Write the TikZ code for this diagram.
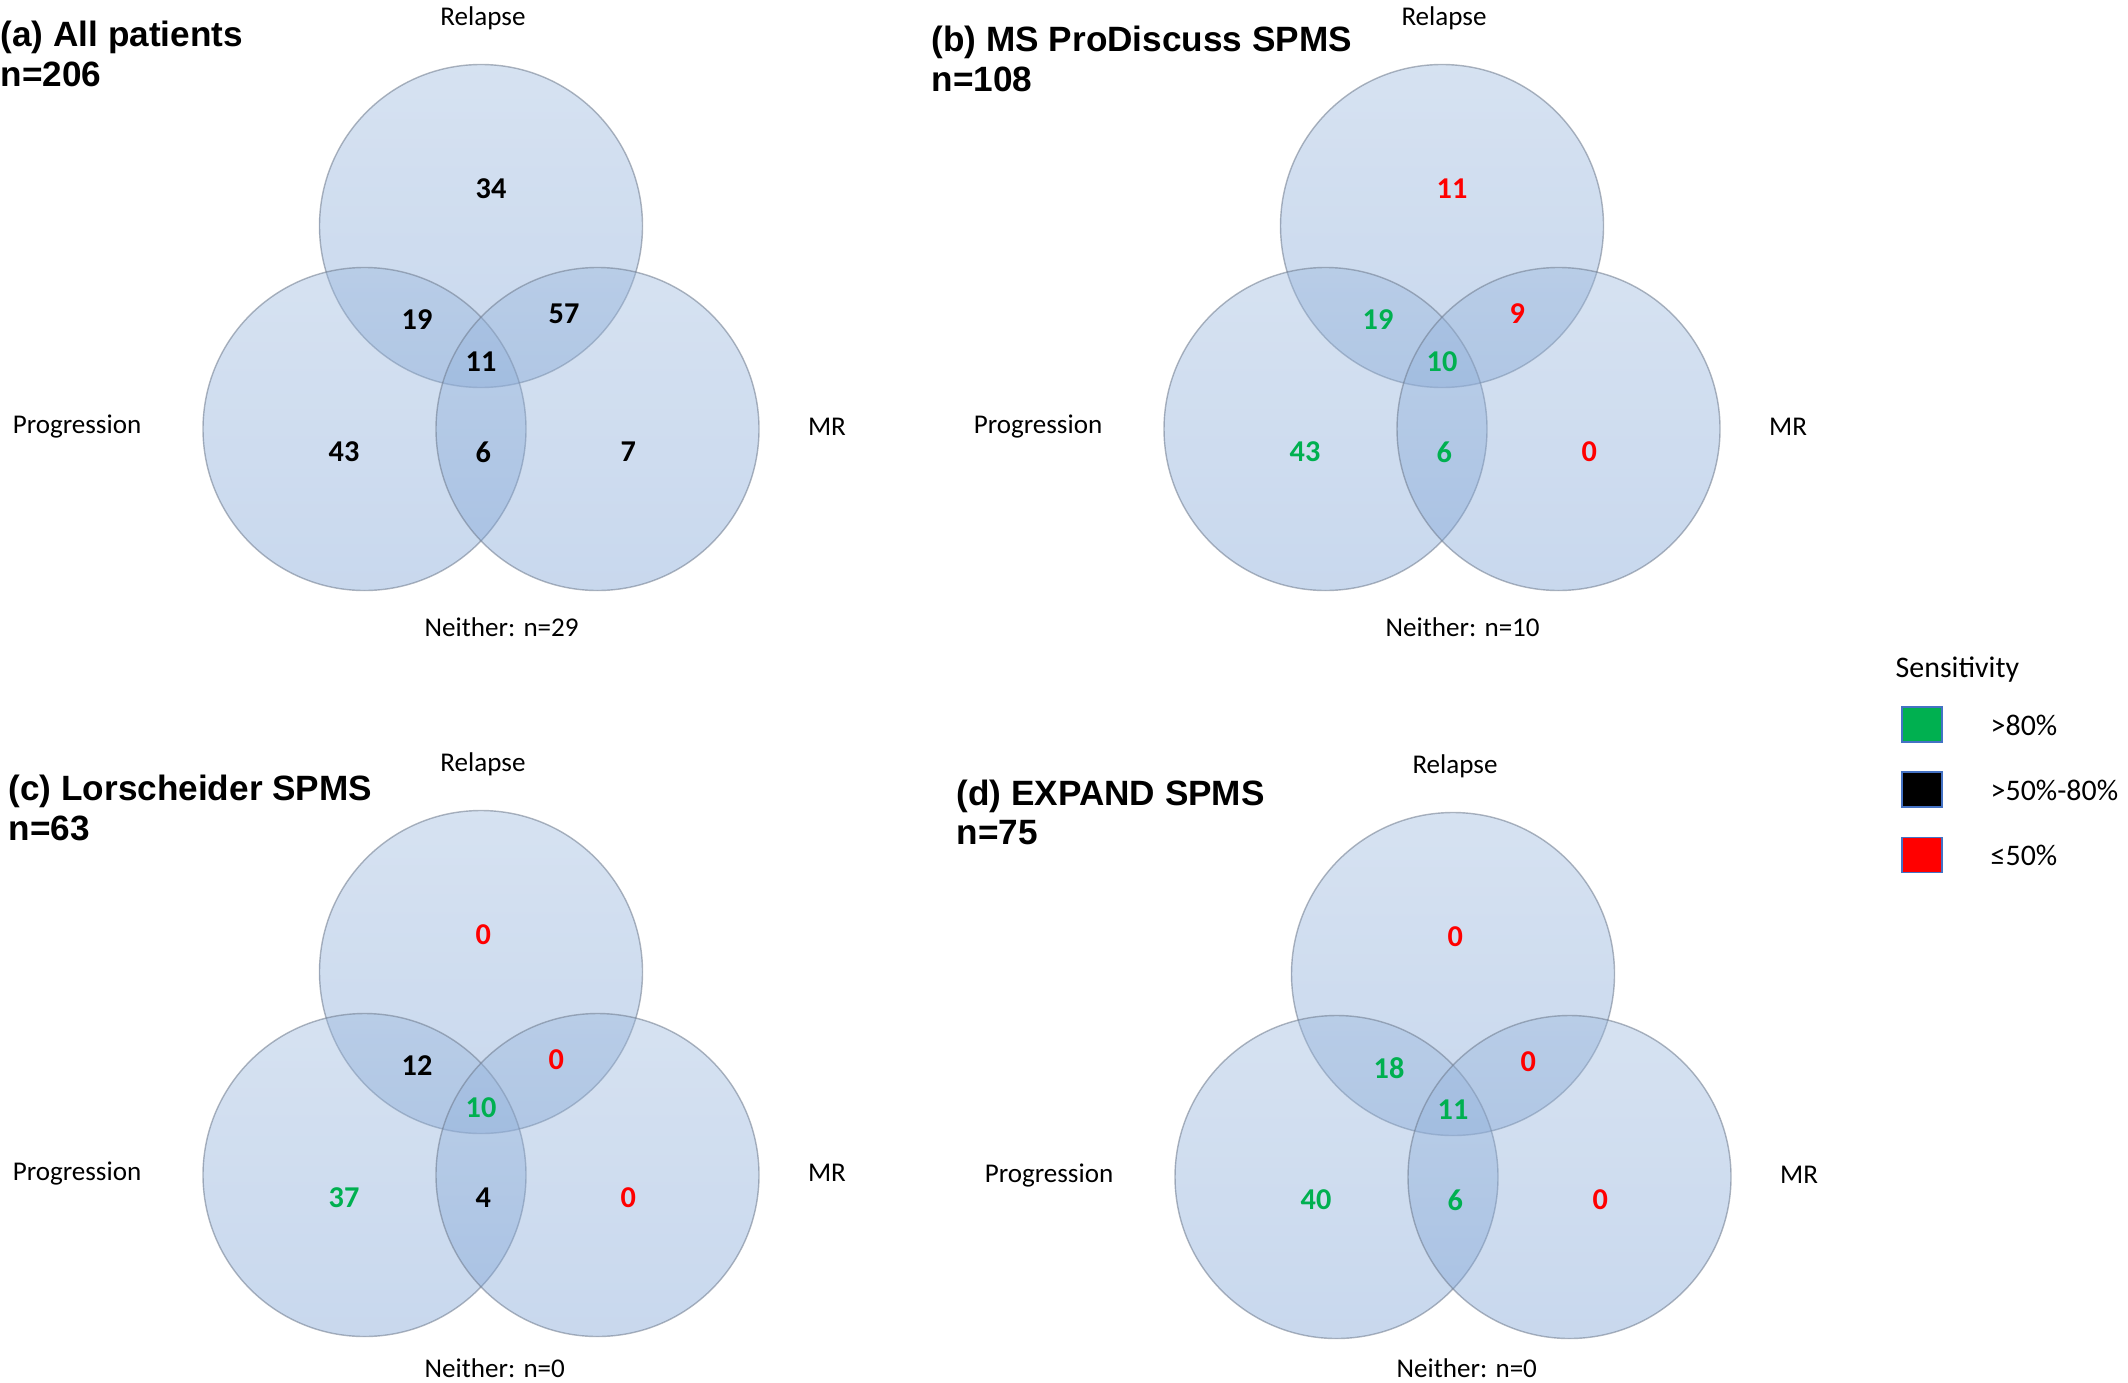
\documentclass[tikz,border=0pt]{standalone}
\usepackage{fontspec}
\setmainfont{Carlito}
\newfontfamily\titlefamily{Liberation Sans}
\usetikzlibrary{positioning}
\definecolor{setTop}{RGB}{155,184,221}
\definecolor{setBottom}{RGB}{122,160,212}
\definecolor{setEdge}{RGB}{110,122,140}
\definecolor{sensHigh}{RGB}{0,176,80}
\definecolor{sensLow}{RGB}{255,0,0}
\definecolor{legendEdge}{RGB}{68,114,196}
\tikzset{
  setcircle/.style={top color=setTop, bottom color=setBottom, fill opacity=0.41,
                    draw=setEdge, draw opacity=0.55, line width=0.4pt},
  setname/.style={font=\fontsize{7.7}{9}\selectfont},
  count/.style={anchor=west, inner sep=0pt, font=\fontsize{8.6}{10}\selectfont\bfseries},
  paneltitle/.style={anchor=base west, inner sep=0pt, font=\titlefamily\fontsize{10}{12}\selectfont\bfseries},
}

\begin{document}
\begin{tikzpicture}[
    x=0.01cm, y=-0.01cm,
    neither/.style={setname, anchor=west, inner sep=0pt},
    legendbox/.style={draw=legendEdge, line width=0.5pt, minimum width=0.4cm, minimum height=0.35cm, inner sep=0pt},
    legendtext/.style={anchor=west, inner sep=0pt, font=\fontsize{8.5}{10}\selectfont}
]
\useasboundingbox (0,0) rectangle (2128,1382);

% (a) All patients
\begin{scope}[shift={(481,226)}]
  \path[setcircle] (0,0) circle[radius=161.5];
  \path[setcircle] (-116.5,203) circle[radius=161.5];
  \path[setcircle] (116.5,203) circle[radius=161.5];
  \node[setname] (a-relapse) at (2,-208) {Relapse};
  \node[setname] (a-progression) at (-404,201) {Progression};
  \node[setname] (a-mr) at (346,201) {MR};
  \node[neither] (a-neither) at (-57,401) {Neither: n=29};
  \node[count] (a-r) at (-6,-37) {34};
  \node[count] (a-rp) at (-80,94) {19};
  \node[count] (a-rm) at (67,88) {57};
  \node[count] (a-rpm) at (-16,136) {11};
  \node[count] (a-p) at (-153,226) {43};
  \node[count] (a-pm) at (-6,226) {6};
  \node[count] (a-m) at (139,226) {7};
\end{scope}
\node[paneltitle] (a-title) at (0,47) {(a) All patients};
\node[paneltitle] (a-n) at (0,87) {n=206};

% (b) MS ProDiscuss SPMS
\begin{scope}[shift={(1442,226)}]
  \path[setcircle] (0,0) circle[radius=161.5];
  \path[setcircle] (-116.5,203) circle[radius=161.5];
  \path[setcircle] (116.5,203) circle[radius=161.5];
  \node[setname] (b-relapse) at (2,-208) {Relapse};
  \node[setname] (b-progression) at (-404,201) {Progression};
  \node[setname] (b-mr) at (346,201) {MR};
  \node[neither] (b-neither) at (-57,401) {Neither: n=10};
  \node[count, sensLow] (b-r) at (-6,-37) {11};
  \node[count, sensHigh] (b-rp) at (-80,94) {19};
  \node[count, sensLow] (b-rm) at (67,88) {9};
  \node[count, sensHigh] (b-rpm) at (-16,136) {10};
  \node[count, sensHigh] (b-p) at (-153,226) {43};
  \node[count, sensHigh] (b-pm) at (-6,226) {6};
  \node[count, sensLow] (b-m) at (139,226) {0};
\end{scope}
\node[paneltitle] (b-title) at (931,52) {(b) MS ProDiscuss SPMS};
\node[paneltitle] (b-n) at (931,92) {n=108};

% (c) Lorscheider SPMS
\begin{scope}[shift={(481,972)}]
  \path[setcircle] (0,0) circle[radius=161.5];
  \path[setcircle] (-116.5,203) circle[radius=161.5];
  \path[setcircle] (116.5,203) circle[radius=161.5];
  \node[setname] (c-relapse) at (2,-208) {Relapse};
  \node[setname] (c-progression) at (-404,201) {Progression};
  \node[setname] (c-mr) at (346,201) {MR};
  \node[neither] (c-neither) at (-57,396) {Neither: n=0};
  \node[count, sensLow] (c-r) at (-6,-37) {0};
  \node[count] (c-rp) at (-80,94) {12};
  \node[count, sensLow] (c-rm) at (67,88) {0};
  \node[count, sensHigh] (c-rpm) at (-16,136) {10};
  \node[count, sensHigh] (c-p) at (-153,226) {37};
  \node[count] (c-pm) at (-6,226) {4};
  \node[count, sensLow] (c-m) at (139,226) {0};
\end{scope}
\node[paneltitle] (c-title) at (8,800) {(c) Lorscheider SPMS};
\node[paneltitle] (c-n) at (8,840) {n=63};

% (d) EXPAND SPMS
\begin{scope}[shift={(1453,974)}]
  \path[setcircle] (0,0) circle[radius=161.5];
  \path[setcircle] (-116.5,203) circle[radius=161.5];
  \path[setcircle] (116.5,203) circle[radius=161.5];
  \node[setname] (d-relapse) at (2,-208) {Relapse};
  \node[setname] (d-progression) at (-404,201) {Progression};
  \node[setname] (d-mr) at (346,201) {MR};
  \node[neither] (d-neither) at (-57,394) {Neither: n=0};
  \node[count, sensLow] (d-r) at (-6,-37) {0};
  \node[count, sensHigh] (d-rp) at (-80,94) {18};
  \node[count, sensLow] (d-rm) at (67,88) {0};
  \node[count, sensHigh] (d-rpm) at (-16,136) {11};
  \node[count, sensHigh] (d-p) at (-153,226) {40};
  \node[count, sensHigh] (d-pm) at (-6,226) {6};
  \node[count, sensLow] (d-m) at (139,226) {0};
\end{scope}
\node[paneltitle] (d-title) at (956,805) {(d) EXPAND SPMS};
\node[paneltitle] (d-n) at (956,844) {n=75};

% Legend
\node[legendtext] (legend-title) at (1895,670) {Sensitivity};
\node[legendbox, fill=sensHigh] (box-high) at (1922,724.5) {};
\node[legendbox, fill=black] (box-mid) at (1922,789.5) {};
\node[legendbox, fill=sensLow] (box-low) at (1922,855) {};
\node[legendtext] (txt-high) at (1990,725) {>80\%};
\node[legendtext] (txt-mid) at (1990,790) {>50\%-80\%};
\node[legendtext] (txt-low) at (1990,855) {≤50\%};
\end{tikzpicture}
\end{document}
